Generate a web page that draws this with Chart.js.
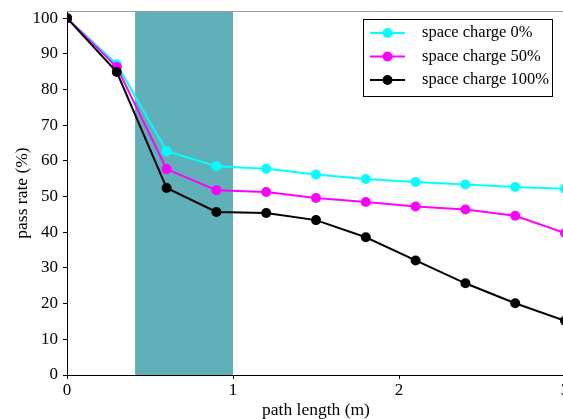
<!DOCTYPE html>
<html>
<head>
<meta charset="utf-8">
<script src="https://cdn.jsdelivr.net/npm/chart.js@4/dist/chart.umd.min.js"></script>
<style>
    body { margin: 0; background: #fff; }
    #wrap { width: 563px; height: 419px; overflow: hidden; }
    #box { width: 600px; height: 419px; }
</style>
</head>
<body>
<div id="wrap"><div id="box"><canvas id="chart"></canvas></div></div>
<script>
// path length (m)
var pathLength = [0, 0.3, 0.6, 0.9, 1.2, 1.5, 1.8, 2.1, 2.4, 2.7, 3.0];
var charge0 = [100, 87.1, 62.7, 58.5, 57.8, 56.2, 54.9, 54.1, 53.4, 52.7, 52.2];
var charge50 = [100, 86.3, 57.7, 51.8, 51.3, 49.6, 48.5, 47.2, 46.4, 44.6, 39.8];
var charge100 = [100, 84.9, 52.4, 45.7, 45.4, 43.4, 38.6, 32.1, 25.7, 20.1, 15.2];
var yTicks = [0, 10, 20, 30, 40, 50, 60, 70, 80, 90, 100];
var xTicks = [0, 1, 2, 3];
var shadeFrom = 0.41;
var shadeTo = 1.0;

var serif = "'Liberation Serif', 'DejaVu Serif', serif";

function xy(values) {
    return values.map(function (v, i) { return { x: pathLength[i], y: v }; });
}

var shadePlugin = {
    id: 'shade',
    beforeDatasetsDraw: function (chart) {
        var ctx = chart.ctx;
        var a = chart.chartArea;
        var x = chart.scales.x;
        var x0 = x.getPixelForValue(shadeFrom);
        var x1 = x.getPixelForValue(shadeTo);
        ctx.save();
        ctx.fillStyle = '#5fb0b8';
        ctx.fillRect(x0, a.top, x1 - x0, a.bottom - a.top);
        ctx.restore();
    },
    afterDraw: function (chart) {
        var ctx = chart.ctx;
        var a = chart.chartArea;
        ctx.save();
        // top spine
        ctx.strokeStyle = '#999';
        ctx.lineWidth = 1;
        ctx.beginPath();
        ctx.moveTo(a.left, a.top + 0.5);
        ctx.lineTo(a.right, a.top + 0.5);
        ctx.stroke();

        // legend
        var lx = 363, ly = 19, lw = 189, lh = 77;
        ctx.fillStyle = '#fff';
        ctx.fillRect(lx, ly, lw, lh);
        ctx.strokeStyle = '#000';
        ctx.strokeRect(lx + 0.5, ly + 0.5, lw, lh);
        ctx.font = "16.5px " + serif;
        ctx.textBaseline = 'middle';
        chart.data.datasets.forEach(function (ds, i) {
            var y = 33 + i * 23.5;
            ctx.strokeStyle = ds.borderColor;
            ctx.lineWidth = 2;
            ctx.beginPath();
            ctx.moveTo(370, y);
            ctx.lineTo(405, y);
            ctx.stroke();
            ctx.fillStyle = ds.borderColor;
            ctx.beginPath();
            ctx.arc(387.5, y, 5, 0, Math.PI * 2);
            ctx.fill();
            ctx.fillStyle = '#000';
            ctx.fillText(ds.label, 422, y);
        });
        ctx.restore();
    }
};

new Chart(document.getElementById('chart'), {
    type: 'line',
    data: {
        datasets: [
            { label: 'space charge 0%', data: xy(charge0), borderColor: '#00ffff', backgroundColor: '#00ffff', order: 3 },
            { label: 'space charge 50%', data: xy(charge50), borderColor: '#ff00ff', backgroundColor: '#ff00ff', order: 2 },
            { label: 'space charge 100%', data: xy(charge100), borderColor: '#000000', backgroundColor: '#000000', order: 1 }
        ]
    },
    options: {
        responsive: true,
        maintainAspectRatio: false,
        animation: false,
        layout: { padding: { top: 11, right: 35, left: 0, bottom: 0 } },
        elements: {
            line: { borderWidth: 2, tension: 0 },
            point: { radius: 5, hoverRadius: 5, borderWidth: 0 }
        },
        plugins: {
            legend: { display: false },
            tooltip: { enabled: false }
        },
        scales: {
            x: {
                type: 'linear',
                min: 0,
                max: 3,
                afterBuildTicks: function (scale) {
                    scale.ticks = xTicks.map(function (v) { return { value: v }; });
                },
                afterFit: function (scale) {
                    scale.height = 44;
                    scale.paddingLeft = 0;
                    scale.paddingRight = 0;
                },
                grid: { drawOnChartArea: false, drawTicks: true, tickLength: 4, color: '#000' },
                border: { display: true, color: '#000', width: 1 },
                ticks: { color: '#000', padding: 1, maxRotation: 0, font: { family: serif, size: 17 } },
                title: {
                    display: true,
                    text: 'path length (m)',
                    color: '#000',
                    padding: { top: 0, bottom: 0 },
                    font: { family: serif, size: 17.5, lineHeight: 1 }
                }
            },
            y: {
                type: 'linear',
                min: 0,
                max: 102,
                afterBuildTicks: function (scale) {
                    scale.ticks = yTicks.map(function (v) { return { value: v }; });
                },
                afterFit: function (scale) {
                    scale.width = 67;
                    scale.paddingTop = 0;
                    scale.paddingBottom = 0;
                },
                grid: { drawOnChartArea: false, drawTicks: true, tickLength: 4, color: '#000' },
                border: { display: true, color: '#000', width: 1 },
                ticks: { color: '#000', padding: 5, font: { family: serif, size: 17 } },
                title: {
                    display: true,
                    text: 'pass rate (%)',
                    color: '#000',
                    padding: { top: 12, bottom: 0 },
                    font: { family: serif, size: 17.5 }
                }
            }
        }
    },
    plugins: [shadePlugin]
});
</script>
</body>
</html>
